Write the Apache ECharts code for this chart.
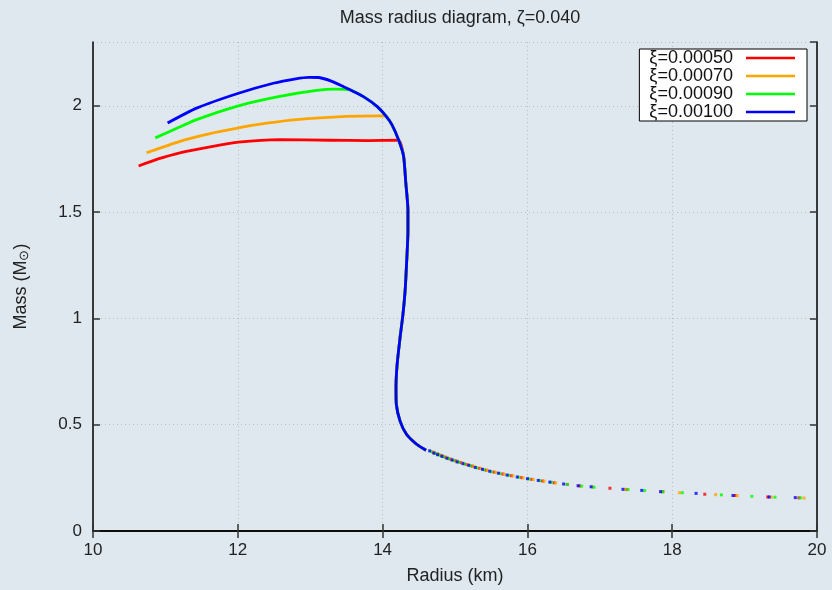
<!DOCTYPE html>
<html>
<head>
<meta charset="utf-8">
<script src="https://cdn.jsdelivr.net/npm/echarts@6/dist/echarts.min.js"></script>
<style>
html,body{margin:0;padding:0;background:#dfe8ef;}
#c{width:832px;height:590px;}
</style>
</head>
<body>
<div id="c"></div>
<script>
// ---- data ----
const seriesNames = ['ξ=0.00050', 'ξ=0.00070', 'ξ=0.00090', 'ξ=0.00100'];
const seriesColors = ['#ff0000', '#ffa500', '#00ff00', '#0000ff'];

// upper branches (R km, M Msun), left to right, ending where they join the common curve
const redR = [10.63, 10.9, 11.2, 11.6, 12.01, 12.58, 13.27, 13.8, 14.22];
const redM = [1.717, 1.75, 1.779, 1.806, 1.829, 1.841, 1.838, 1.836, 1.838];
const orangeR = [10.74, 11.2, 11.6, 12.01, 12.4, 12.81, 13.5, 13.96, 14.05];
const orangeM = [1.779, 1.833, 1.868, 1.896, 1.918, 1.935, 1.95, 1.953, 1.95];
const greenR = [10.86, 11.15, 11.43, 12.01, 12.58, 13.09, 13.35, 13.55];
const greenM = [1.849, 1.893, 1.935, 2.0, 2.044, 2.072, 2.078, 2.075];
const blueR = [11.03, 11.43, 12.01, 12.49, 12.8, 12.98, 13.12];
const blueM = [1.919, 1.989, 2.059, 2.106, 2.127, 2.134, 2.133];

// common curve (shared by all), from the top down
const trunkR = [13.12, 13.3, 13.46, 13.55, 13.73, 13.93, 14.05, 14.13, 14.22, 14.29, 14.32, 14.35, 14.35, 14.33, 14.31, 14.28, 14.24, 14.20, 14.185, 14.19, 14.24, 14.33, 14.47, 14.6];
const trunkM = [2.133, 2.115, 2.09, 2.075, 2.044, 1.995, 1.95, 1.91, 1.84, 1.763, 1.64, 1.51, 1.41, 1.25, 1.126, 1.015, 0.906, 0.78, 0.673, 0.595, 0.518, 0.455, 0.408, 0.38];

// sparse tail points per series
const redTailR = [14.70, 14.76, 14.81, 14.87, 14.94, 15.01, 15.08, 15.16, 15.24, 15.34, 15.43, 15.54, 15.66, 15.78, 15.92, 16.06, 16.21, 16.37, 16.55, 16.72, 17.14, 17.37, 17.87, 18.45, 18.87, 19.32, 19.75];
const redTailM = [0.370, 0.362, 0.355, 0.347, 0.338, 0.330, 0.322, 0.313, 0.305, 0.295, 0.286, 0.277, 0.268, 0.260, 0.251, 0.243, 0.235, 0.227, 0.219, 0.212, 0.201, 0.195, 0.185, 0.173, 0.167, 0.160, 0.156];
const orangeTailR = [14.72, 14.78, 14.83, 14.89, 14.96, 15.03, 15.10, 15.18, 15.26, 15.36, 15.45, 15.56, 15.68, 15.80, 15.94, 16.08, 16.23, 16.39, 16.9, 17.35, 17.85, 18.1, 18.6, 18.9, 19.37, 19.82];
const orangeTailM = [0.367, 0.360, 0.353, 0.345, 0.336, 0.328, 0.320, 0.312, 0.304, 0.294, 0.285, 0.276, 0.267, 0.259, 0.250, 0.242, 0.234, 0.226, 0.207, 0.196, 0.185, 0.180, 0.171, 0.166, 0.159, 0.155];
const greenTailR = [14.67, 14.73, 14.78, 14.84, 14.91, 14.98, 15.05, 15.13, 15.21, 15.30, 15.40, 15.50, 15.62, 15.74, 15.88, 16.02, 16.17, 16.33, 16.55, 16.75, 16.92, 17.39, 17.62, 17.87, 18.14, 18.68, 19.1, 19.42, 19.77];
const greenTailM = [0.374, 0.365, 0.357, 0.349, 0.340, 0.332, 0.324, 0.315, 0.307, 0.297, 0.288, 0.279, 0.270, 0.262, 0.253, 0.245, 0.237, 0.229, 0.219, 0.211, 0.206, 0.195, 0.190, 0.185, 0.180, 0.170, 0.163, 0.159, 0.156];
const blueTailR = [14.65, 14.71, 14.76, 14.82, 14.89, 14.96, 15.03, 15.11, 15.19, 15.28, 15.38, 15.48, 15.60, 15.72, 15.86, 16.00, 16.15, 16.31, 16.50, 16.70, 16.88, 17.32, 17.58, 17.84, 18.33, 18.84, 19.34, 19.7];
const blueTailM = [0.377, 0.366, 0.359, 0.351, 0.342, 0.334, 0.325, 0.317, 0.309, 0.299, 0.290, 0.281, 0.272, 0.263, 0.254, 0.246, 0.238, 0.230, 0.221, 0.213, 0.208, 0.196, 0.191, 0.185, 0.177, 0.167, 0.160, 0.157];

const xTicks = [10, 12, 14, 16, 18, 20];
const yRange = [0, 2.3];

// ---- build ----
function zip(a, b) { return a.map((v, i) => [v, b[i]]); }
function buildLine(bR, bM) {
  const pts = zip(bR, bM);
  const joinM = bM[bM.length - 1];
  trunkR.forEach((r, i) => { if (trunkM[i] < joinM - 0.001) pts.push([r, trunkM[i]]); });
  return pts;
}
const lines = [buildLine(redR, redM), buildLine(orangeR, orangeM), buildLine(greenR, greenM), buildLine(blueR, blueM)];
const tails = [zip(redTailR, redTailM), zip(orangeTailR, orangeTailM), zip(greenTailR, greenTailM), zip(blueTailR, blueTailM)];

const FONT = 'Liberation Sans, Arial, sans-serif';
const series = [];
for (let i = 0; i < 4; i++) {
  series.push({
    name: 'tail' + i, type: 'scatter', data: tails[i], symbol: 'rect', symbolSize: 3,
    itemStyle: { color: seriesColors[i] }, z: 3, animation: false
  });
}
for (let i = 0; i < 4; i++) {
  series.push({
    name: seriesNames[i], type: 'line', data: lines[i], showSymbol: false, smooth: 0.2,
    lineStyle: { color: seriesColors[i], width: 2.8 }, itemStyle: { color: seriesColors[i] },
    z: 4 + i, animation: false
  });
}

const gridLine = { show: true, lineStyle: { color: '#bbbbbb', type: [1, 3], width: 1 } };
const axisLine = { show: true, lineStyle: { color: '#000', width: 1.5 } };
const tick = { show: true, inside: true, length: 7, lineStyle: { color: '#333', width: 1.5 } };

const chart = echarts.init(document.getElementById('c'));
chart.setOption({
  backgroundColor: '#dfe8ef',
  animation: false,
  title: {
    text: 'Mass radius diagram, ζ=0.040', left: 455, top: 4, textAlign: 'center',
    textStyle: { fontFamily: FONT, fontSize: 18, fontWeight: 'normal', color: '#222' }
  },
  grid: { left: 93, right: 15, top: 42, bottom: 56, containLabel: false },
  legend: {
    data: seriesNames, orient: 'vertical', right: 25, top: 49, align: 'right',
    backgroundColor: '#fff', borderColor: '#000', borderWidth: 1, borderRadius: 0,
    padding: [0, 12, 0, 10], itemGap: 0, itemWidth: 49, itemHeight: 2.5, icon: 'rect',
    textStyle: { fontFamily: FONT, fontSize: 18, lineHeight: 18, color: '#111', padding: [0, 8, 0, 0] }
  },
  xAxis: [{
    type: 'value', min: xTicks[0], max: xTicks[xTicks.length - 1], interval: 2,
    name: 'Radius (km)', nameLocation: 'middle', nameGap: 36,
    nameTextStyle: { fontFamily: FONT, fontSize: 18, color: '#222' },
    axisLine: axisLine, axisTick: tick, splitLine: gridLine,
    axisLabel: { fontFamily: FONT, fontSize: 17, color: '#222', margin: 11 }
  }, {
    type: 'value', position: 'top', min: xTicks[0], max: xTicks[xTicks.length - 1], interval: 2,
    axisLine: axisLine, axisTick: tick, splitLine: { show: false }, axisLabel: { show: false }
  }],
  yAxis: [{
    type: 'value', min: yRange[0], max: yRange[1], interval: 0.5,
    name: '{a|Mass (M}{s|⊙}{a|)}', nameLocation: 'middle', nameGap: 62, nameRotate: 90,
    nameTextStyle: { fontFamily: FONT, fontSize: 18, color: '#222',
      rich: { a: { fontFamily: FONT, fontSize: 18, color: '#222' }, s: { fontFamily: FONT, fontSize: 13, color: '#222', verticalAlign: 'bottom', padding: [6, 0, 0, 0] } } },
    axisLine: axisLine, axisTick: tick, splitLine: gridLine,
    axisLabel: { fontFamily: FONT, fontSize: 17, color: '#222', margin: 11, showMaxLabel: false }
  }, {
    type: 'value', position: 'right', min: yRange[0], max: yRange[1], interval: 0.5,
    axisLine: axisLine, axisTick: tick, splitLine: { show: false }, axisLabel: { show: false }
  }],
  series: series
});
</script>
</body>
</html>
